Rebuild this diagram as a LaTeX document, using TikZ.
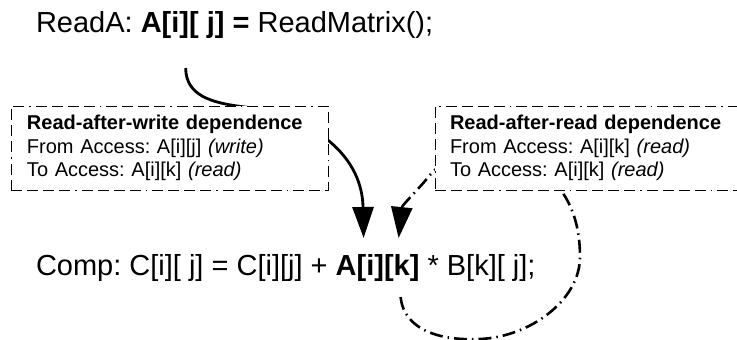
\documentclass[tikz,border=0pt]{standalone}
\usepackage{fontspec}
\setmainfont{Liberation Sans}
\usetikzlibrary{arrows.meta,calc}
\frenchspacing
\begin{document}
\begin{tikzpicture}[x=1pt,y=-1pt,
  code/.style={inner sep=0pt,outer sep=0pt,font=\fontsize{29}{34}\selectfont\frenchspacing},
  depbox/.style={draw=black,line width=0.9pt,fill=white,
    dash pattern=on 11pt off 5pt on 11pt off 5pt on 11pt off 5pt on 11pt off 5pt on 1.5pt off 5pt,
    inner xsep=16pt,inner ysep=0pt,minimum height=84pt,align=left,
    font=\fontsize{20}{23.5}\selectfont\frenchspacing},
  rawarrow/.style={line width=2.8pt,-{Triangle[length=31pt,width=21pt]}},
  ddarrow/.style={line width=2.6pt,dash pattern=on 13pt off 5pt on 1.5pt off 5pt,
    -{Triangle[length=31pt,width=21pt]}}
]
\useasboundingbox (0,0) rectangle (737,340);

% top statement
\node[code,anchor=base west] (ra1) at (36,32) {ReadA:\ \null};
\node[code,anchor=base west] (aij) at (ra1.base east) {\textbf{A[i][ j]}};
\node[code,anchor=base west] (ra2) at (aij.base east) {\textbf{\ =}\ ReadMatrix();};

% bottom statement
\node[code,anchor=base west] (c1) at (36,275) {Comp: C[i][ j] = C[i][j] +\ \null};
\node[code,anchor=base west] (aik) at (c1.base east) {\textbf{A[i][k]}};
\node[code,anchor=base west] (c2) at (aik.base east) {\ * B[k][ j];};

% read-after-write connector
\draw[rawarrow] ($(aij.south)+(3,30)$) .. controls (186,95) and (210,103) .. (245,107)
  .. controls (305,115) and (362,150) .. ($(aik.north)+(-14,-16)$);

% read-after-read connector
\draw[ddarrow] ($(aik.south)+(23,16)$) .. controls (404,330) and (440,341) .. (480,339)
  .. controls (530,337) and (580,300) .. (580,257)
  .. controls (580,215) and (565,192) .. (548,175)
  .. controls (520,148) and (455,145) .. (430,175)
  .. controls (418,190) and (402,205) .. ($(aik.north)+(21,-16)$);

% dependence boxes
\node[depbox,minimum width=317pt,text width=285pt] (raw) at (169.5,148)
  {\textbf{Read-after-write dependence}\\From Access: A[i][j] \textit{(write)}\\To Access: A[i][k] \textit{(read)}};
\node[depbox,inner xsep=15pt,minimum width=310pt,text width=280pt] (rar) at (590,148)
  {\textbf{Read-after-read dependence}\\From Access: A[i][k] \textit{(read)}\\To Access: A[i][k] \textit{(read)}};
\end{tikzpicture}
\end{document}
